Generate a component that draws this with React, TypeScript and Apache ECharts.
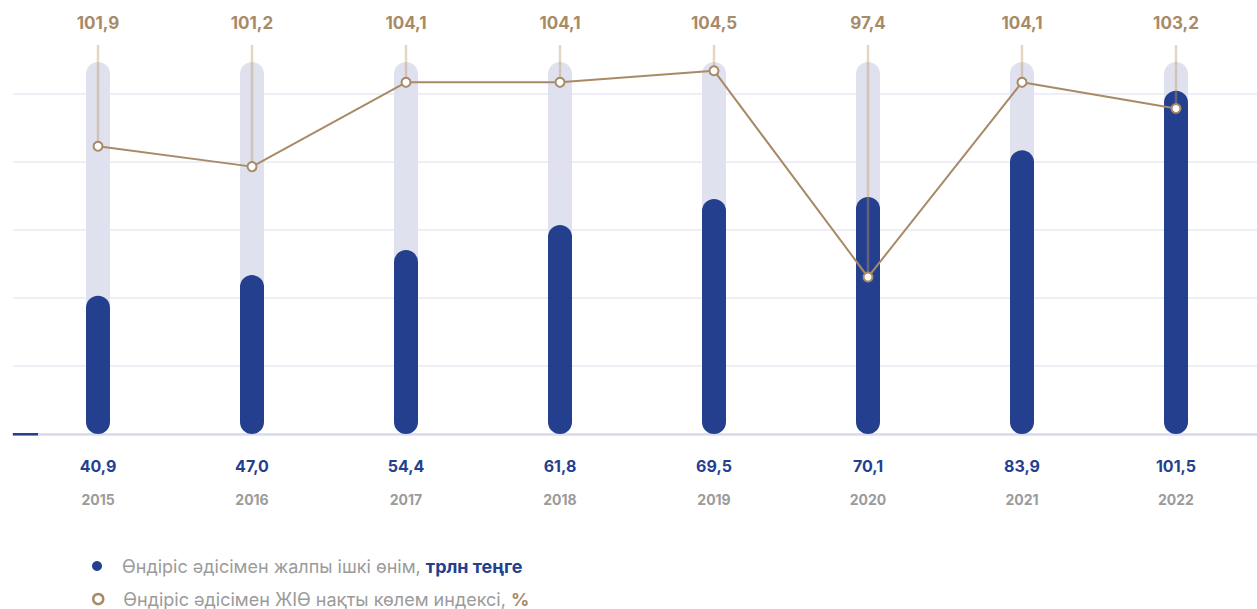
import React, { useEffect, useRef } from "react";
import * as echarts from "echarts";

const years = ["2015", "2016", "2017", "2018", "2019", "2020", "2021", "2022"];
const gdpValues = [40.9, 47.0, 54.4, 61.8, 69.5, 70.1, 83.9, 101.5];
const indexValues = [101.9, 101.2, 104.1, 104.1, 104.5, 97.4, 104.1, 103.2];
const gdpName = "Өндіріс әдісімен жалпы ішкі өнім";
const gdpUnit = "трлн теңге";
const indexName = "Өндіріс әдісімен ЖІӨ нақты көлем индексі";
const indexUnit = "%";

const BLUE = "#253f8f";
const TAN = "#a88a66";
const GRAY = "#9b9b9b";
const FONT = "Inter, 'Noto Sans', sans-serif";
const LFS = 18;

const fmt = (v: number) => v.toFixed(1).replace(".", ",");

const legendText = (rich: any) => ({
  fontFamily: FONT,
  fontSize: LFS,
  color: GRAY,
  padding: [0, 0, 0, 15],
  rich,
});

export default function App() {
  const ref = useRef<HTMLDivElement>(null);
  useEffect(() => {
    if (!ref.current) return;
    const chart = echarts.init(ref.current, null, { renderer: "svg" });
    const option: any = {
      animation: false,
      textStyle: { fontFamily: FONT },
      grid: [
        { left: 21, right: 4, top: 62, bottom: 175 },
        { left: 13, right: 0, top: 94, bottom: 175 },
      ],
      legend: [
        {
          left: 92,
          top: 557,
          padding: 0,
          itemWidth: 10,
          itemHeight: 10,
          textStyle: legendText({
            a: { fontFamily: FONT, fontSize: LFS, color: GRAY },
            b: { fontFamily: FONT, fontSize: LFS, color: BLUE, fontWeight: "bold" },
          }),
          formatter: (name: string) => `{a|${name}, }{b|${gdpUnit}}`,
          data: [{ name: gdpName, icon: "circle", itemStyle: { color: BLUE } }],
        },
        {
          left: 92,
          top: 590,
          padding: 0,
          itemWidth: 10,
          itemHeight: 10,
          textStyle: legendText({
            a: { fontFamily: FONT, fontSize: LFS, color: GRAY },
            c: { fontFamily: FONT, fontSize: LFS, color: TAN, fontWeight: "bold" },
          }),
          formatter: (name: string) => `{a|${name}, }{c|${indexUnit}}`,
          data: [
            {
              name: indexName,
              icon: "circle",
              itemStyle: { color: "#fff", borderColor: TAN, borderWidth: 2.5 },
            },
          ],
        },
      ],
      xAxis: [
        {
          type: "category",
          gridIndex: 0,
          position: "bottom",
          data: years,
          axisLine: { show: false },
          axisTick: { show: false },
          axisLabel: {
            margin: 20,
            verticalAlign: "top",
            formatter: (v: string, i: number) => `{v|${fmt(gdpValues[i])}}\n{y|${v}}`,
            rich: {
              v: { fontFamily: FONT, fontSize: 16, fontWeight: "bold", color: BLUE, lineHeight: 24 },
              y: { fontFamily: FONT, fontSize: 14, fontWeight: "bold", color: GRAY, lineHeight: 42 },
            },
          },
        },
        {
          type: "category",
          gridIndex: 0,
          position: "top",
          data: years,
          axisLine: { show: false },
          axisTick: { show: false },
          axisLabel: {
            margin: 31,
            fontFamily: FONT,
            fontSize: 17,
            fontWeight: "bold",
            color: TAN,
            formatter: (_v: string, i: number) => fmt(indexValues[i]),
          },
        },
        {
          type: "value",
          gridIndex: 1,
          min: 0,
          max: 1,
          axisLine: { show: true, lineStyle: { color: "#d9dbec", width: 2.5 } },
          axisTick: { show: false },
          axisLabel: { show: false },
          splitLine: { show: false },
        },
      ],
      yAxis: [
        { type: "value", gridIndex: 0, min: 0, max: 110, show: false },
        { type: "value", gridIndex: 0, min: 92, max: 104.8, show: false },
        {
          type: "value",
          gridIndex: 1,
          min: 0,
          max: 100,
          interval: 20,
          axisLine: { show: false },
          axisTick: { show: false },
          axisLabel: { show: false },
          splitLine: { show: true, lineStyle: { color: "#eeeef7", width: 2 } },
        },
      ],
      graphic: [
        {
          type: "rect",
          left: 13,
          top: 433,
          shape: { width: 25, height: 2.5 },
          style: { fill: BLUE },
          z: 1,
        },
      ],
      series: [
        {
          name: gdpName,
          type: "bar",
          xAxisIndex: 0,
          yAxisIndex: 0,
          data: gdpValues,
          barWidth: 24,
          itemStyle: { color: BLUE, borderRadius: 12 },
          showBackground: true,
          backgroundStyle: { color: "#dfe1ee", borderRadius: 12 },
          z: 2,
        },
        {
          type: "custom",
          xAxisIndex: 0,
          yAxisIndex: 1,
          data: indexValues.map((v, i) => [i, v]),
          encode: { x: 0, y: 1 },
          renderItem: (params: any, api: any) => {
            const p = api.coord([api.value(0), api.value(1)]);
            const top = params.coordSys.y - 17;
            return {
              type: "line",
              shape: { x1: p[0], y1: top, x2: p[0], y2: p[1] },
              style: { stroke: "rgba(190,150,100,0.4)", lineWidth: 2.5 },
            };
          },
          silent: true,
          z: 3,
        },
        {
          name: indexName,
          type: "line",
          xAxisIndex: 0,
          yAxisIndex: 1,
          data: indexValues,
          symbol: "emptyCircle",
          symbolSize: 9,
          lineStyle: { color: TAN, width: 2 },
          itemStyle: { color: TAN, borderColor: TAN, borderWidth: 2 },
          z: 4,
        },
      ],
    };
    chart.setOption(option);
    return () => chart.dispose();
  }, []);
  return (
    <div
      ref={ref}
      style={{ position: "fixed", left: 0, top: 0, width: 1257, height: 609, background: "#fff" }}
    />
  );
}
